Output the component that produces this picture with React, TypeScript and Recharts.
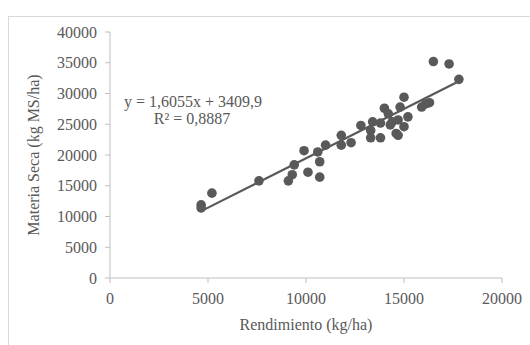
import React from 'react';
import { ScatterChart, Scatter, XAxis, YAxis, Label } from 'recharts';

// Rendimiento (kg/ha) vs Materia Seca (kg MS/ha)
const rendimiento = [
  4650, 4650, 5200, 7600, 9100, 9300, 9400, 9900, 10100, 10600, 10700, 10700, 11000,
  11800, 11800, 12300, 12800, 13300, 13300, 13400, 13800, 13800, 14000, 14200, 14300,
  14400, 14600, 14700, 14700, 14800, 15000, 15000, 15200, 15900, 16100, 16300, 16500,
  17300, 17800,
];
const materiaSeca = [
  11900, 11400, 13800, 15800, 15800, 16800, 18400, 20700, 17200, 20500, 18900, 16400, 21600,
  23200, 21600, 22000, 24800, 24000, 22800, 25400, 25200, 22800, 27600, 26700, 24900,
  25400, 23500, 25700, 23200, 27800, 29400, 24600, 26200, 27800, 28300, 28500, 35200,
  34800, 32300,
];

// linear trendline: y = 1,6055x + 3409,9
const slope = 1.6055;
const intercept = 3409.9;
const trendRange = [4600, 17800];

const xTicks = [0, 5000, 10000, 15000, 20000];
const yTicks = [0, 5000, 10000, 15000, 20000, 25000, 30000, 35000, 40000];

const points = rendimiento.map((x, i) => ({ x, y: materiaSeca[i] }));
const trend = trendRange.map((x) => ({ x, y: slope * x + intercept }));

const GRAY = '#595959';
const FONT = '"Liberation Serif", "Times New Roman", serif';
const tickStyle = { fill: GRAY, fontSize: 16, fontFamily: FONT };

export default function App() {
  return (
    <div style={{ position: 'fixed', left: 0, top: 0, width: 530, height: 345, background: '#fff', overflow: 'hidden' }}>
      <div style={{ position: 'absolute', left: 8, top: 16, width: 600, height: 400, borderTop: '1px solid #d9d9d9', borderLeft: '1px solid #d9d9d9' }} />
      <ScatterChart width={530} height={345} margin={{ top: 32, right: 28, bottom: 0, left: 0 }} style={{ position: 'absolute', left: 0, top: 0 }}>
        <XAxis
          type="number"
          dataKey="x"
          domain={[0, 20000]}
          ticks={xTicks}
          height={67}
          stroke="#bfbfbf"
          tickSize={5}
          tickMargin={10}
          tick={tickStyle}
        >
          <Label value="Rendimiento (kg/ha)" position="insideBottom" offset={15} style={{ fill: GRAY, fontSize: 16, fontFamily: FONT }} />
        </XAxis>
        <YAxis
          type="number"
          dataKey="y"
          domain={[0, 40000]}
          ticks={yTicks}
          width={110}
          stroke="#bfbfbf"
          tickSize={5}
          tickMargin={8}
          tick={tickStyle}
        >
          <Label value="Materia Seca (kg MS/ha)" angle={-90} position="insideLeft" offset={33} style={{ fill: GRAY, fontSize: 16, fontFamily: FONT, textAnchor: 'middle' }} />
        </YAxis>
        <Scatter data={points} fill={GRAY} shape={(p: any) => <circle cx={p.cx} cy={p.cy} r={4.8} fill={GRAY} />} isAnimationActive={false} />
        <Scatter data={trend} line={{ stroke: GRAY, strokeWidth: 2.2 }} shape={() => null} isAnimationActive={false} />
        <text x={193} y={107} textAnchor="middle" fill={GRAY} fontSize={16} fontFamily={FONT}>y = 1,6055x + 3409,9</text>
        <text x={192} y={124} textAnchor="middle" fill={GRAY} fontSize={16} fontFamily={FONT}>R² = 0,8887</text>
      </ScatterChart>
    </div>
  );
}
